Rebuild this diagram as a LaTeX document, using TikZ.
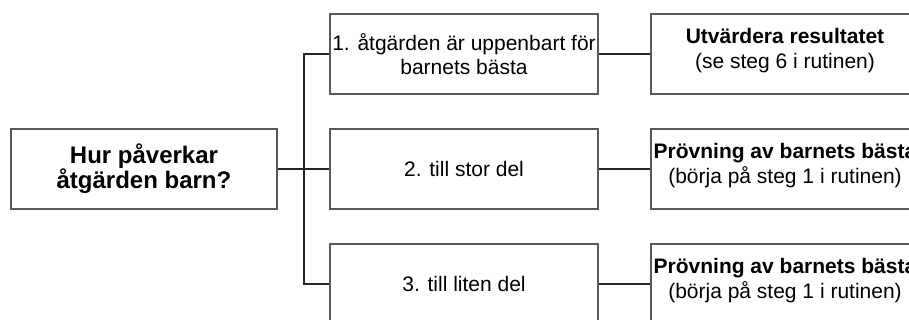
\documentclass[tikz,border=0pt]{standalone}
\usepackage{fontspec}
\setmainfont{Liberation Sans}

\begin{document}
\begin{tikzpicture}[x=1pt,y=-1pt,
    box/.style={draw=black!65,line width=1.3pt,minimum width=268pt,minimum height=80pt,
        inner sep=0pt,align=center,font=\fontsize{21}{24}\selectfont},
    result/.style={box,font=\fontsize{21}{25}\selectfont,text depth=12pt},
    link/.style={draw=black!85,line width=1.2pt}]
    \useasboundingbox (0,0) rectangle (909,320);

    \node[box,minimum width=266pt,font=\fontsize{24}{25}\selectfont\bfseries] (q) at (144,169) {Hur påverkar\\åtgärden barn?};

    \node[box] (a1) at (464,54) {1. åtgärden är uppenbart för\\barnets bästa};
    \node[box] (a2) at (464,169) {2. till stor del};
    \node[box] (a3) at (464,284) {3. till liten del};

    \node[result] (r1) at (785,54) {\textbf{Utvärdera resultatet}\\(se steg 6 i rutinen)};
    \node[result] (r2) at (785,169) {\textbf{Prövning av barnets bästa}\\(börja på steg 1 i rutinen)};
    \node[result] (r3) at (785,284) {\textbf{Prövning av barnets bästa}\\(börja på steg 1 i rutinen)};

    \coordinate (fork) at (304,169);
    \draw[link] (q.east) -- (a2.west);
    \draw[link] (a1.west) -| (fork) |- (a3.west);
    \draw[link] (a1.east) -- (r1.west);
    \draw[link] (a2.east) -- (r2.west);
    \draw[link] (a3.east) -- (r3.west);
\end{tikzpicture}
\end{document}
